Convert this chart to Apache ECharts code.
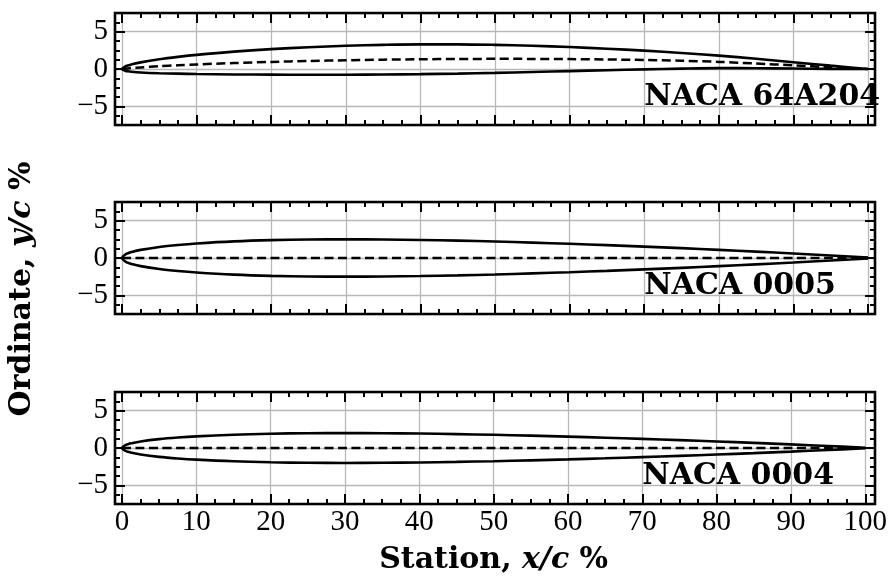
<!DOCTYPE html>
<html>
<head>
<meta charset="utf-8">
<script src="https://cdn.jsdelivr.net/npm/echarts@6/dist/echarts.min.js"></script>
<style>
html,body{margin:0;padding:0;background:#fff;}
#main{width:890px;height:578px;}
</style>
</head>
<body>
<div id="main"></div>
<script>
// chord stations, x/c %
var stations = [0, 0.5, 0.75, 1.25, 2.5, 5, 7.5, 10, 15, 20, 25, 30, 35, 40, 45, 50, 55, 60, 65, 70, 75, 80, 85, 90, 95, 100];

// NACA 64A204 upper / lower surface and mean line, y/c %
var upper64 = [0, 0.379, 0.469, 0.613, 0.890, 1.299, 1.619, 1.889, 2.322, 2.659, 2.915, 3.108, 3.237, 3.304, 3.300, 3.232, 3.109, 2.937, 2.720, 2.458, 2.152, 1.795, 1.370, 0.912, 0.449, 0.008];
var lower64 = [0, -0.265, -0.307, -0.367, -0.460, -0.563, -0.625, -0.671, -0.728, -0.759, -0.769, -0.762, -0.737, -0.692, -0.616, -0.516, -0.401, -0.279, -0.158, -0.044, 0.054, 0.113, 0.104, 0.062, 0.017, -0.008];
var camber64 = [0, 0.057, 0.081, 0.123, 0.215, 0.368, 0.497, 0.609, 0.797, 0.950, 1.073, 1.173, 1.250, 1.306, 1.342, 1.358, 1.354, 1.329, 1.281, 1.207, 1.103, 0.954, 0.737, 0.487, 0.233, 0];

// NACA 0005 upper / lower surface
var upper0005 = [0, 0.509, 0.619, 0.789, 1.089, 1.481, 1.750, 1.951, 2.227, 2.391, 2.476, 2.501, 2.479, 2.418, 2.325, 2.206, 2.064, 1.901, 1.722, 1.527, 1.317, 1.093, 0.855, 0.603, 0.336, 0.053];
var lower0005 = [0, -0.509, -0.619, -0.789, -1.089, -1.481, -1.750, -1.951, -2.227, -2.391, -2.476, -2.501, -2.479, -2.418, -2.325, -2.206, -2.064, -1.901, -1.722, -1.527, -1.317, -1.093, -0.855, -0.603, -0.336, -0.053];

// NACA 0004 upper / lower surface
var upper0004 = [0, 0.407, 0.495, 0.631, 0.872, 1.185, 1.400, 1.561, 1.782, 1.913, 1.980, 2.001, 1.983, 1.934, 1.860, 1.765, 1.651, 1.521, 1.378, 1.221, 1.053, 0.874, 0.684, 0.483, 0.269, 0.042];
var lower0004 = [0, -0.407, -0.495, -0.631, -0.872, -1.185, -1.400, -1.561, -1.782, -1.913, -1.980, -2.001, -1.983, -1.934, -1.860, -1.765, -1.651, -1.521, -1.378, -1.221, -1.053, -0.874, -0.684, -0.483, -0.269, -0.042];

// symmetric sections: mean line on the chord
var camberZero = [0, 0, 0, 0, 0, 0, 0, 0, 0, 0, 0, 0, 0, 0, 0, 0, 0, 0, 0, 0, 0, 0, 0, 0, 0, 0];

var names = ['NACA 64A204', 'NACA 0005', 'NACA 0004'];
var uppers = [upper64, upper0005, upper0004];
var lowers = [lower64, lower0005, lower0004];
var cambers = [camber64, camberZero, camberZero];
var labelPos = [70, -5];

var panelTop = [13, 202, 392];
var font = 'Liberation Serif';
var boldFont = 'DejaVu Serif';

function outline(up, lo) {
	var pts = [];
	for (var i = stations.length - 1; i >= 0; i--) pts.push([stations[i], up[i]]);
	for (var j = 1; j < stations.length; j++) pts.push([stations[j], lo[j]]);
	return pts;
}
function line(y) {
	var pts = [];
	for (var i = 0; i < stations.length; i++) pts.push([stations[i], y[i]]);
	return pts;
}
function yLabel(v) {
	if (v % 5 !== 0) return '';
	return v < 0 ? '\u2212' + (-v) : '' + v;
}

var titleRich = {
	b: {fontFamily: boldFont, fontSize: 30, fontWeight: 'bold', color: '#000'},
	i: {fontFamily: boldFont, fontSize: 30, fontWeight: 'bold', fontStyle: 'italic', color: '#000'}
};

var grids = [], xAxes = [], yAxes = [], series = [];
var gridCol = '#b8b8b8';
for (var p = 0; p < 3; p++) {
	grids.push({left: 115, top: panelTop[p], width: 760, height: 112, show: true,
		borderColor: '#000', borderWidth: 2.6, backgroundColor: 'transparent', z: 5});
	grids.push({left: 122, top: panelTop[p], width: 746, height: 112});

	var last = (p == 2);
	xAxes.push({gridIndex: 2 * p, type: 'value', min: -1, max: 101, show: false});
	xAxes.push({gridIndex: 2 * p + 1, type: 'value', position: 'bottom', min: 0, max: 100, interval: 10,
		axisLine: {show: false, onZero: false},
		axisTick: {show: true, inside: true, length: 10, lineStyle: {color: '#000', width: 2}},
		minorTick: {show: true, splitNumber: 4, length: 5, lineStyle: {color: '#000', width: 2}},
		splitLine: {show: true, lineStyle: {color: gridCol, width: 1.3}},
		axisLabel: {show: last, color: '#000', fontFamily: font, fontSize: 29, margin: 4},
		name: last ? '{b|Station, }{i|x/c}{b| %}' : '',
		nameLocation: 'middle', nameGap: 41,
		nameTextStyle: {rich: titleRich}
	});
	xAxes.push({gridIndex: 2 * p + 1, type: 'value', position: 'top', min: 0, max: 100, interval: 10,
		axisLine: {show: false, onZero: false},
		axisTick: {show: true, inside: true, length: 10, lineStyle: {color: '#000', width: 2}},
		minorTick: {show: true, splitNumber: 4, length: 5, lineStyle: {color: '#000', width: 2}},
		splitLine: {show: false}, axisLabel: {show: false}
	});

	['left', 'right'].forEach(function (side) {
		yAxes.push({gridIndex: 2 * p, type: 'value', position: side, min: -7.5, max: 7.5, splitNumber: 3,
			axisLine: {show: false, onZero: false},
			axisTick: {show: true, inside: true, length: 10, lineStyle: {color: '#000', width: 2}},
			splitLine: {show: side == 'left', lineStyle: {color: gridCol, width: 1.3}},
			axisLabel: {show: side == 'left', formatter: yLabel, color: '#000', fontFamily: font, fontSize: 29, margin: 7,
				showMinLabel: false, showMaxLabel: false}
		});
		yAxes.push({gridIndex: 2 * p, type: 'value', position: side, min: -7.5, max: 7.5, interval: 1.25,
			axisLine: {show: false, onZero: false},
			axisTick: {show: true, inside: true, length: 5, lineStyle: {color: '#000', width: 2}},
			splitLine: {show: false}, axisLabel: {show: false}
		});
	});
	yAxes.push({gridIndex: 2 * p + 1, type: 'value', min: -7.5, max: 7.5, show: false,
		axisLine: {onZero: false}});

	var xi = 3 * p + 1, yi = 5 * p + 4;
	series.push({type: 'line', xAxisIndex: xi, yAxisIndex: yi, data: outline(uppers[p], lowers[p]),
		symbol: 'none', smooth: 0.35, clip: false, z: 10,
		lineStyle: {color: '#000', width: 2.6}});
	series.push({type: 'line', xAxisIndex: xi, yAxisIndex: yi, data: line(cambers[p]),
		symbol: 'none', smooth: 0.3, clip: false, z: 9,
		lineStyle: {color: '#000', width: 2.5, type: [9, 4.5]}});
	series.push({type: 'scatter', xAxisIndex: xi, yAxisIndex: yi, data: [labelPos],
		symbolSize: 0, itemStyle: {color: '#000'}, silent: true, z: 12,
		label: {show: true, formatter: names[p], position: [0, 0], align: 'left', verticalAlign: 'bottom',
			offset: [0, 6], color: '#000', opacity: 1, textBorderWidth: 0,
			fontFamily: boldFont, fontWeight: 'bold', fontSize: 30}});
}

var chart = echarts.init(document.getElementById('main'));
chart.setOption({
	animation: false,
	backgroundColor: '#fff',
	grid: grids,
	xAxis: xAxes,
	yAxis: yAxes,
	series: series,
	graphic: [{
		type: 'text', x: 22, y: 289, rotation: Math.PI / 2,
		style: {
			text: '{b|Ordinate, }{i|y/c}{b| %}',
			align: 'center', verticalAlign: 'middle',
			rich: {
				b: {fontFamily: boldFont, fontSize: 30, fontWeight: 'bold', fill: '#000'},
				i: {fontFamily: boldFont, fontSize: 30, fontWeight: 'bold', fontStyle: 'italic', fill: '#000'}
			}
		}
	}]
});
</script>
</body>
</html>
